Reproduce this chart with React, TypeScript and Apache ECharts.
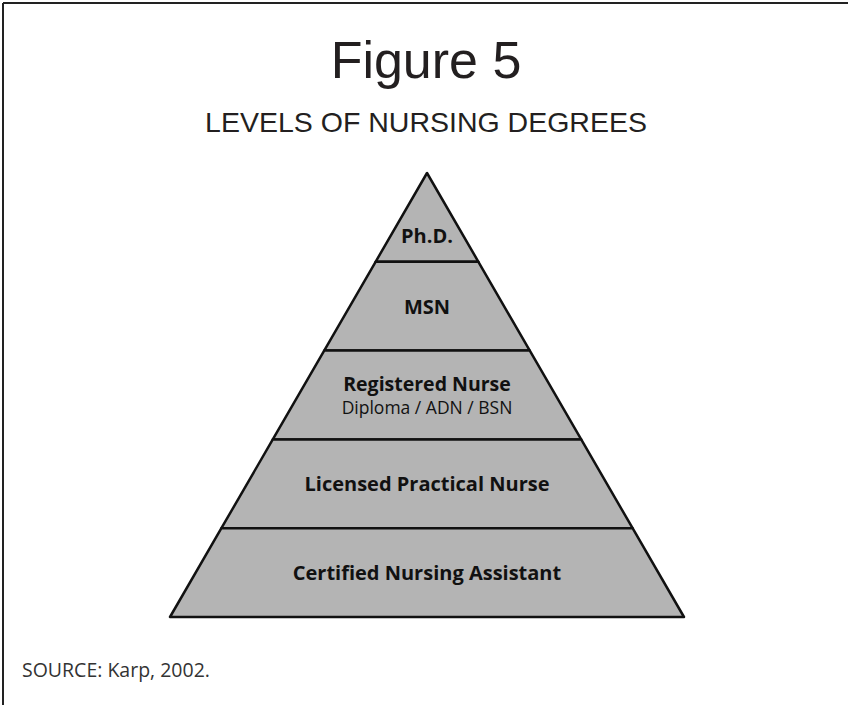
import React, { useEffect, useRef } from "react";
import * as echarts from "echarts";

const titleText = "Figure 5";
const subtitleText = "LEVELS OF NURSING DEGREES";
const sourceText = "SOURCE: Karp, 2002.";

// top to bottom
const levelNames = [
  "Ph.D.",
  "MSN",
  "Registered Nurse",
  "Licensed Practical Nurse",
  "Certified Nursing Assistant",
];
const levelSubtitles = ["", "", "Diploma / ADN / BSN", "", ""];
const levelValues = [1, 2, 3, 4, 5];

const FILL = "#b4b4b4";
const LABEL_FONT = "'Open Sans', 'Noto Sans', sans-serif";
const HEAD_FONT = "'Liberation Sans', Arial, sans-serif";

export default function App() {
  const ref = useRef<HTMLDivElement>(null);

  useEffect(() => {
    if (!ref.current) return;
    const chart = echarts.init(ref.current, undefined, { renderer: "svg" });

    const data = levelNames.map((name, i) => {
      const item: any = { name, value: levelValues[i] };
      if (levelSubtitles[i]) {
        item.label = {
          formatter: `{a|${name}}\n{b|${levelSubtitles[i]}}`,
        };
      }
      if (i === 0) {
        item.label = { padding: [37, 0, 0, 0] };
      }
      return item;
    });

    chart.setOption({
      animation: false,
      backgroundColor: "#ffffff",
      graphic: [
        {
          type: "line",
          shape: { x1: 3, y1: 3, x2: 848, y2: 3 },
          style: { stroke: "#222", lineWidth: 2 },
          silent: true,
        },
        {
          type: "line",
          shape: { x1: 3, y1: 3, x2: 3, y2: 705 },
          style: { stroke: "#222", lineWidth: 2 },
          silent: true,
        },
        {
          type: "text",
          x: 426,
          y: 60,
          style: {
            text: titleText,
            fontFamily: HEAD_FONT,
            fontSize: 52,
            fill: "#231f20",
            align: "center",
            verticalAlign: "middle",
          },
        },
        {
          type: "text",
          x: 426,
          y: 122,
          style: {
            text: subtitleText,
            fontFamily: HEAD_FONT,
            fontSize: 28.5,
            fill: "#231f20",
            align: "center",
            verticalAlign: "middle",
          },
        },
        {
          type: "text",
          x: 22,
          y: 669,
          style: {
            text: sourceText,
            fontFamily: LABEL_FONT,
            fontSize: 19.5,
            fill: "#333",
            align: "left",
            verticalAlign: "middle",
          },
        },
      ],
      series: [
        {
          type: "funnel",
          left: 170,
          top: 173,
          width: 514,
          height: 444,
          min: 0,
          max: 5,
          minSize: "0%",
          maxSize: "100%",
          sort: "ascending",
          gap: 0,
          silent: true,
          emphasis: { disabled: true },
          itemStyle: {
            color: FILL,
            borderColor: "#111",
            borderWidth: 2.5,
            borderJoin: "miter",
          },
          label: {
            show: true,
            position: "inside",
            color: "#111",
            fontFamily: LABEL_FONT,
            fontWeight: "bold",
            fontSize: 20,
            rich: {
              a: {
                fontFamily: LABEL_FONT,
                fontWeight: "bold",
                fontSize: 19.5,
                color: "#111",
                lineHeight: 24,
              },
              b: {
                fontFamily: LABEL_FONT,
                fontWeight: "normal",
                fontSize: 17.5,
                color: "#111",
                lineHeight: 24,
              },
            },
          },
          labelLine: { show: false },
          data,
        },
      ],
    });

    return () => chart.dispose();
  }, []);

  return (
    <div
      ref={ref}
      style={{
        position: "fixed",
        left: 0,
        top: 0,
        width: 848,
        height: 705,
        background: "#fff",
      }}
    />
  );
}
